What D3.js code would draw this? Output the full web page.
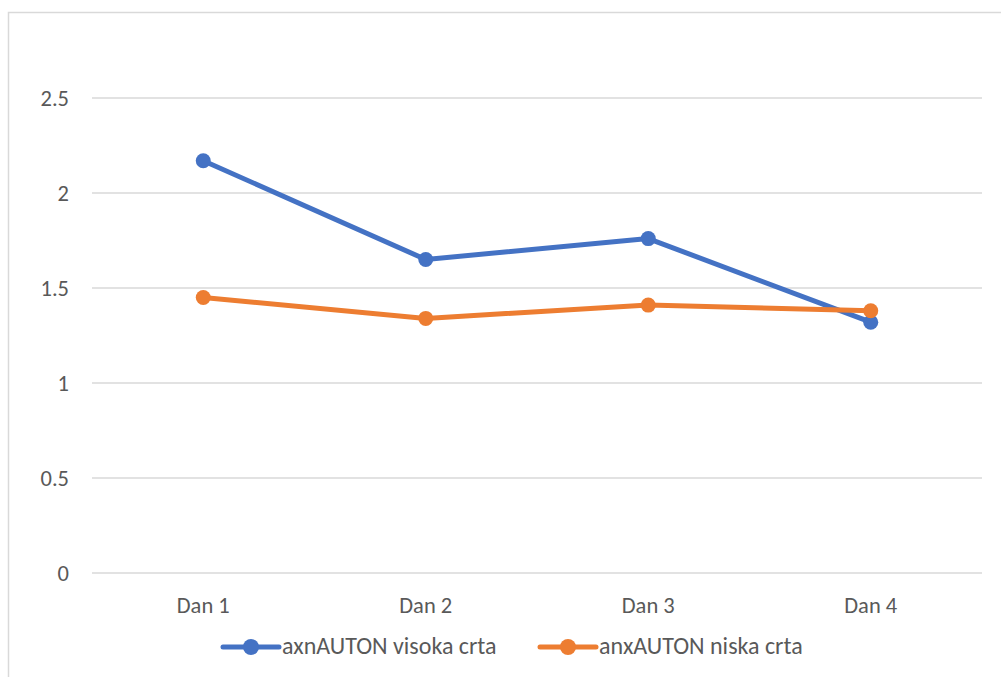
<!DOCTYPE html>
<html>
<head>
<meta charset="utf-8">
<script src="https://cdn.jsdelivr.net/npm/d3@7"></script>
<style>
  body { margin: 0; background: #fff; }
  text { font-family: Calibri, Carlito, Lato, "Liberation Sans", sans-serif; fill: #595959; }
</style>
</head>
<body>
<script>
let days = ['Dan 1', 'Dan 2', 'Dan 3', 'Dan 4']
let visoka = [2.17, 1.65, 1.76, 1.32]
let niska = [1.45, 1.34, 1.41, 1.38]
let yTicks = [0, 0.5, 1, 1.5, 2, 2.5]
let seriesNames = ['axnAUTON visoka crta', 'anxAUTON niska crta']
let seriesColors = ['#4472c4', '#ed7d31']

let W = 1001, H = 677
let margin = { top: 98, right: 19, bottom: 104, left: 92 }
    , width = W - margin.left - margin.right
    , height = H - margin.top - margin.bottom

let svg = d3.select('body').append('svg')
    .attr('width', W)
    .attr('height', H)

// chart border
svg.append('rect')
    .attr('x', 8.5).attr('y', 12.5)
    .attr('width', 1010).attr('height', 700)
    .attr('fill', 'none')
    .attr('stroke', '#d9d9d9')
    .attr('stroke-width', 1.5)

let g = svg.append('g')
    .attr('transform', 'translate(' + margin.left + ',' + margin.top + ')')

let xScale = d3.scaleBand()
    .domain(days)
    .range([0, width])

let yScale = d3.scaleLinear()
    .domain([0, 2.5])
    .range([height, 0])

// gridlines
g.selectAll('.grid')
    .data(yTicks)
    .enter().append('line')
    .attr('x1', 0).attr('x2', width)
    .attr('y1', d => yScale(d)).attr('y2', d => yScale(d))
    .attr('stroke', '#d9d9d9')
    .attr('stroke-width', 1.5)

// y axis labels
let yAxis = g.append('g')
    .call(d3.axisLeft(yScale).tickValues(yTicks).tickSize(0).tickPadding(23).tickFormat(d => String(d)))
yAxis.select('.domain').remove()
yAxis.selectAll('text').attr('font-size', 22.5).style('font-family', null)

// x axis labels
let xAxis = g.append('g')
    .attr('transform', 'translate(0,' + height + ')')
    .call(d3.axisBottom(xScale).tickSize(0).tickPadding(24))
xAxis.select('.domain').remove()
xAxis.selectAll('text').attr('font-size', 22.5).style('font-family', null)

let line = d3.line()
    .x((d, i) => xScale(days[i]) + xScale.bandwidth() / 2)
    .y(d => yScale(d))

let allSeries = [visoka, niska]
allSeries.forEach(function (vals, s) {
    g.append('path')
        .datum(vals)
        .attr('fill', 'none')
        .attr('stroke', seriesColors[s])
        .attr('stroke-width', 5)
        .attr('stroke-linejoin', 'round')
        .attr('d', line)
    g.selectAll('.dot' + s)
        .data(vals)
        .enter().append('circle')
        .attr('cx', (d, i) => xScale(days[i]) + xScale.bandwidth() / 2)
        .attr('cy', d => yScale(d))
        .attr('r', 7.5)
        .attr('fill', seriesColors[s])
})

// legend
let legendX = [223, 540]
let legendY = 647
seriesNames.forEach(function (name, s) {
    let lg = svg.append('g').attr('transform', 'translate(' + legendX[s] + ',' + legendY + ')')
    lg.append('line')
        .attr('x1', 0).attr('x2', 56)
        .attr('stroke', seriesColors[s])
        .attr('stroke-width', 5)
        .attr('stroke-linecap', 'round')
    lg.append('circle')
        .attr('cx', 28).attr('r', 8)
        .attr('fill', seriesColors[s])
    lg.append('text')
        .attr('x', 59).attr('y', 7)
        .attr('font-size', 24)
        .text(name)
})
</script>
</body>
</html>
